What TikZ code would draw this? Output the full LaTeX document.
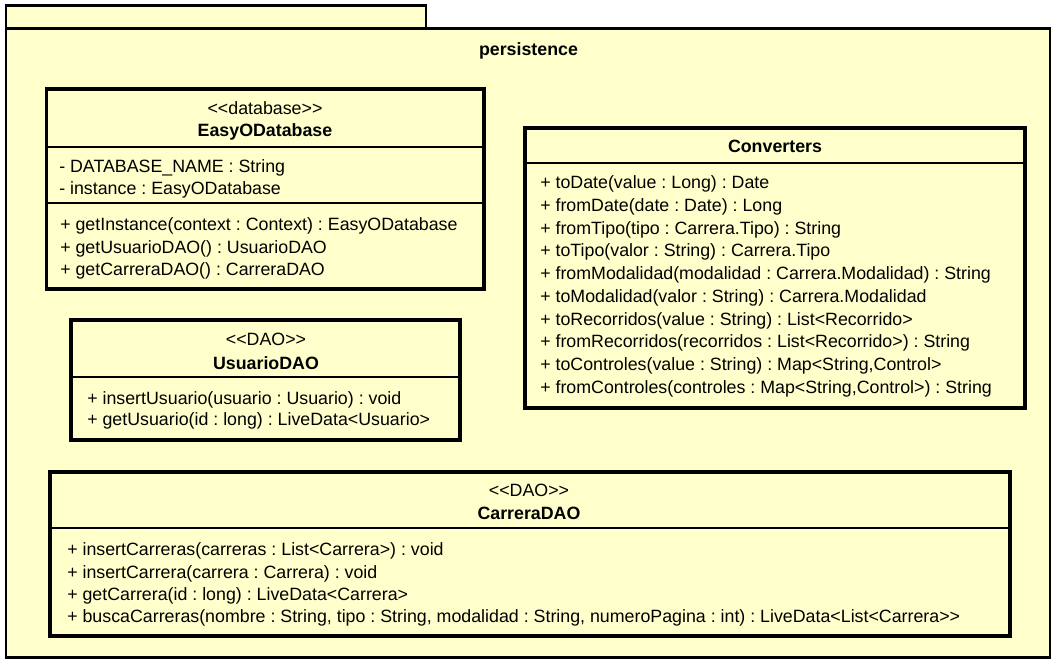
\documentclass[tikz,border=0pt]{standalone}
\usepackage{fontspec}
\setmainfont{Liberation Sans}[Ligatures=TeXOff]
\definecolor{umlfill}{HTML}{FFFFCC}
\frenchspacing
\begin{document}
\begin{tikzpicture}[x=0.75pt,y=-0.75pt,
  pkg/.style={draw=black, fill=umlfill, line width=1.6pt},
  classbox/.style={draw=black, fill=umlfill, line width=2.3pt},
  sep/.style={draw=black, line width=1pt},
  txt/.style={font=\fontsize{13.35}{16}\selectfont, inner sep=0pt, anchor=base west},
  ttl/.style={font=\fontsize{13.35}{16}\selectfont\bfseries, inner sep=0pt, anchor=base},
  ster/.style={font=\fontsize{13.35}{16}\selectfont, inner sep=0pt, anchor=base}]
\useasboundingbox (0,0) rectangle (1052,659);
% package
\draw[pkg] (6,5.5) rectangle (426,28.5);
\draw[pkg] (6,28.5) rectangle (1050,657.5);
\node[ttl] (pkgname) at (528.5,56) {persistence};

% EasyODatabase
\draw[classbox] (46.5,89) rectangle (484,289);
\draw[sep] (46.5,147) -- (484,147);
\draw[sep] (46.5,203) -- (484,203);
\node[ster] (e0) at (265,115) {<<database>>};
\node[ttl] (e1) at (265,137) {EasyODatabase};
\node[txt] (e2) at (59,172.5) {- DATABASE\_NAME : String};
\node[txt] (e3) at (59,194.5) {- instance : EasyODatabase};
\node[txt] (e4) at (60,230.5) {+ getInstance(context : Context) : EasyODatabase};
\node[txt] (e5) at (60,253) {+ getUsuarioDAO() : UsuarioDAO};
\node[txt] (e6) at (60,275) {+ getCarreraDAO() : CarreraDAO};

% Converters
\draw[classbox] (525,128) rectangle (1025,408);
\draw[sep] (525,163) -- (1025,163);
\node[ttl] (c0) at (775,153) {Converters};
\node[txt] (c1) at (540,189) {+ toDate(value : Long) : Date};
\node[txt] (c2) at (540,211.7) {+ fromDate(date : Date) : Long};
\node[txt] (c3) at (540,234.3) {+ fromTipo(tipo : Carrera.Tipo) : String};
\node[txt] (c4) at (540,257) {+ toTipo(valor : String) : Carrera.Tipo};
\node[txt] (c5) at (540,279.7) {+ fromModalidad(modalidad : Carrera.Modalidad) : String};
\node[txt] (c6) at (540,302.3) {+ toModalidad(valor : String) : Carrera.Modalidad};
\node[txt] (c7) at (540,325) {+ toRecorridos(value : String) : List<Recorrido>};
\node[txt] (c8) at (540,347.7) {+ fromRecorridos(recorridos : List<Recorrido>) : String};
\node[txt] (c9) at (540,370.3) {+ toControles(value : String) : Map<String,Control>};
\node[txt] (c10) at (540,393) {+ fromControles(controles : Map<String,Control>) : String};

% UsuarioDAO
\draw[classbox] (71,320) rectangle (460,440);
\draw[sep] (71,377) -- (460,377);
\node[ster] (u0) at (266,345.5) {<<DAO>>};
\node[ttl] (u1) at (266,369) {UsuarioDAO};
\node[txt] (u2) at (87,404) {+ insertUsuario(usuario : Usuario) : void};
\node[txt] (u3) at (87,425.5) {+ getUsuario(id : long) : LiveData<Usuario>};

% CarreraDAO
\draw[classbox] (50,472) rectangle (1010,636);
\draw[sep] (50,528) -- (1010,528);
\node[ster] (r0) at (529,496) {<<DAO>>};
\node[ttl] (r1) at (529,519.5) {CarreraDAO};
\node[txt] (r2) at (67,555.5) {+ insertCarreras(carreras : List<Carrera>) : void};
\node[txt] (r3) at (67,578) {+ insertCarrera(carrera : Carrera) : void};
\node[txt] (r4) at (67,600) {+ getCarrera(id : long) : LiveData<Carrera>};
\node[txt] (r5) at (67,622) {+ buscaCarreras(nombre : String, tipo : String, modalidad : String, numeroPagina : int) : LiveData<List<Carrera>>};
\end{tikzpicture}
\end{document}
